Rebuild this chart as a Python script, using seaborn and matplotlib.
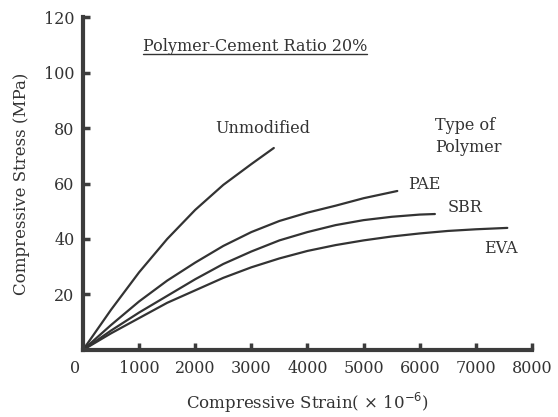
import matplotlib
matplotlib.use("Agg")
import matplotlib.pyplot as plt
import matplotlib.transforms as mtransforms
from matplotlib.lines import Line2D
import seaborn as sns
import pandas as pd

# Stress-strain curves (strain x 10^-6, stress MPa), polymer-cement ratio 20 %
unmod_strain = [0, 500, 1000, 1500, 2000, 2500, 3000, 3400]
unmod_stress = [0, 14.5, 28, 40, 50.5, 59.5, 67, 72.8]

pae_strain = [0, 500, 1000, 1500, 2000, 2500, 3000, 3500, 4000, 4500, 5000, 5600]
pae_stress = [0, 9, 17.5, 25, 31.5, 37.5, 42.5, 46.5, 49.5, 52, 54.7, 57.3]

sbr_strain = [0, 500, 1000, 1500, 2000, 2500, 3000, 3500, 4000, 4500, 5000, 5500, 6000, 6270]
sbr_stress = [0, 7, 13.5, 19.5, 25.5, 31, 35.5, 39.5, 42.5, 45, 46.8, 48, 48.8, 49]

eva_strain = [0, 500, 1000, 1500, 2000, 2500, 3000, 3500, 4000, 4500, 5000, 5500, 6000, 6500, 7000, 7560]
eva_stress = [0, 6, 11.5, 17, 21.5, 26, 29.8, 33, 35.7, 37.8, 39.5, 40.9, 42, 42.9, 43.5, 44]

x_ticks = [0, 1000, 2000, 3000, 4000, 5000, 6000, 7000, 8000]
y_ticks = [20, 40, 60, 80, 100, 120]

series = {
    "Unmodified": (unmod_strain, unmod_stress),
    "PAE": (pae_strain, pae_stress),
    "SBR": (sbr_strain, sbr_stress),
    "EVA": (eva_strain, eva_stress),
}
frames = []
for name, (xs, ys) in series.items():
    frames.append(pd.DataFrame({"strain": xs, "stress": ys, "polymer": name}))
df = pd.concat(frames, ignore_index=True)

sns.set_theme(style="ticks")
plt.rcParams["font.family"] = ["DejaVu Serif"]

ink = "#333333"
axis_col = "#3c3c3c"

fig = plt.figure(figsize=(5.58, 4.17), dpi=100)
ax = fig.add_axes([0.1487, 0.1607, 0.9534 - 0.1487, 0.9592 - 0.1607])

sns.lineplot(data=df, x="strain", y="stress", units="polymer", estimator=None,
             sort=False, color=ink, linewidth=1.6, ax=ax, legend=False)
for ln in ax.lines:
    ln.set_solid_joinstyle("round")

ax.set_xlim(0, 8000)
ax.set_ylim(0, 120)
ax.set_xticks(x_ticks)
ax.set_yticks(y_ticks)
ax.set_xticklabels([str(v) for v in x_ticks])
ax.set_yticklabels([str(v) for v in y_ticks])

for side in ("top", "right"):
    ax.spines[side].set_visible(False)
for side in ("left", "bottom"):
    ax.spines[side].set_linewidth(3)
    ax.spines[side].set_color(axis_col)
    ax.spines[side].set_capstyle("projecting")

ax.tick_params(axis="both", direction="in", length=5, width=2.5, color=axis_col,
               labelsize=11.5, labelcolor=ink)
ax.tick_params(axis="x", pad=7)
ax.tick_params(axis="y", pad=6)

# nudge the origin label slightly left of the corner
lbl0 = ax.get_xticklabels()[0]
lbl0.set_transform(lbl0.get_transform() + mtransforms.ScaledTranslation(-8 / 100, 0, fig.dpi_scale_trans))

ax.set_xlabel("Compressive Strain( \u00d7 10$^{-6}$)", fontsize=12, color=ink, labelpad=10)
ax.set_ylabel("Compressive Stress (MPa)", fontsize=12, color=ink, labelpad=10)

txt_kw = dict(fontsize=11.5, color=ink, va="center", ha="left")
ax.text(2350, 80, "Unmodified", **txt_kw)
ax.text(6270, 81, "Type of", **txt_kw)
ax.text(6270, 72.8, "Polymer", **txt_kw)
ax.text(5790, 59.5, "PAE", **txt_kw)
ax.text(6490, 51.2, "SBR", **txt_kw)
ax.text(7150, 36.4, "EVA", **txt_kw)

title = ax.text(1070, 109.2, "Polymer-Cement Ratio 20%", fontsize=11.5, color=ink,
                va="center", ha="left")

# underline beneath the ratio caption
fig.canvas.draw()
bb = title.get_window_extent(renderer=fig.canvas.get_renderer())
inv = fig.transFigure.inverted()
(x0, y0) = inv.transform((bb.x0, bb.y0 + 1))
(x1, _) = inv.transform((bb.x1, bb.y0 + 1))
fig.add_artist(Line2D([x0, x1], [y0, y0], transform=fig.transFigure, color=ink, linewidth=1.0))

fig.savefig("out.png", dpi=100, facecolor="white")
